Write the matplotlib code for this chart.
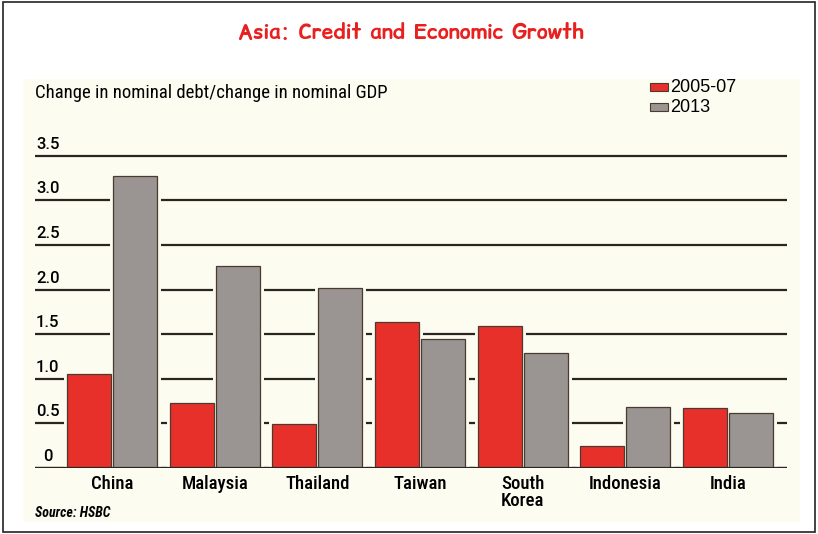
import numpy as np
import matplotlib.pyplot as plt
from matplotlib.patches import Rectangle

countries = ['China', 'Malaysia', 'Thailand', 'Taiwan', 'South\nKorea', 'Indonesia', 'India']
ratio_0507 = [1.05, 0.73, 0.49, 1.64, 1.59, 0.25, 0.67]
ratio_2013 = [3.27, 2.26, 2.02, 1.45, 1.29, 0.68, 0.62]
series_names = ['2005-07', '2013']
yticks = [0, 0.5, 1.0, 1.5, 2.0, 2.5, 3.0, 3.5]
ytick_labels = ['0', '0.5', '1.0', '1.5', '2.0', '2.5', '3.0', '3.5']

red = '#e8302a'
grey = '#9a9592'
cream = '#fcfcf0'
edge = '#4a3a30'
narrow = ['Roboto Condensed', 'Liberation Sans']
comic = ['Comic Relief', 'Comic Neue', 'DejaVu Sans']

W, H = 818, 534
fig = plt.figure(figsize=(W / 100, H / 100), dpi=100)
fig.patch.set_facecolor('white')

# outer frame and cream panel
fig.add_artist(Rectangle((3 / W, 2 / H), 812 / W, 530 / H, transform=fig.transFigure,
                         fill=False, edgecolor='#222222', lw=1.2))
fig.add_artist(Rectangle((23 / W, (H - 522) / H), 777 / W, 443 / H, transform=fig.transFigure,
                         facecolor=cream, edgecolor='none', zorder=0))

fig.text(411 / W, 1 - 33 / H, 'Asia: Credit and Economic Growth', color='#e82020',
         family=comic, fontsize=15, fontweight='bold', ha='center', va='center')
fig.text(35 / W, 1 - 93 / H, 'Change in nominal debt/change in nominal GDP',
         family=narrow, fontsize=13.5, ha='left', va='center')
fig.text(35 / W, 1 - 513 / H, 'Source: HSBC', family=narrow, fontsize=10,
         fontstyle='italic', fontweight='bold', ha='left', va='center')

# legend
for i, (name, col) in enumerate(zip(series_names, [red, grey])):
    yc = 87 + i * 20
    fig.add_artist(Rectangle((650 / W, 1 - (yc + 3.5) / H), 18 / W, 7 / H,
                             transform=fig.transFigure, facecolor=col,
                             edgecolor=edge, lw=0.8))
    fig.text(670 / W, 1 - (yc + 1) / H, name, family='Liberation Sans', fontsize=13,
             ha='left', va='center')

ymax = 3.6
top_px = 468 - ymax * 89.2
ax = fig.add_axes([35 / W, (H - 468) / H, 752 / W, (468 - top_px) / H])
ax.set_facecolor('none')
ax.set_xlim(-0.75, 6.575)
ax.set_ylim(0, ymax)
for s in ax.spines.values():
    s.set_visible(False)

for t, lab in zip(yticks, ytick_labels):
    ax.axhline(t, color='#2a2520', lw=1.6, zorder=1)
    ax.text(0.017, t + 0.045, lab, transform=ax.get_yaxis_transform(),
            ha='center', va='bottom', family=['Roboto', 'Liberation Sans'],
            fontweight='medium', fontsize=12)

x = np.arange(len(countries))
bw = 0.43
off = 0.224
for vals, dx, col in [(ratio_0507, -off, red), (ratio_2013, off, grey)]:
    # cream halo breaks the grid lines around each bar
    ax.bar(x + dx, vals, bw, color=col, edgecolor=cream, lw=5, zorder=2)
    ax.bar(x + dx, vals, bw, color=col, edgecolor=edge, lw=0.9, zorder=3)
ax.axhline(0, color='#2a2520', lw=1.6, zorder=4)

ax.set_yticks([])
ax.set_xticks(x)
ax.set_xticklabels(countries, family=narrow, fontweight='medium', fontsize=13.5,
                   linespacing=0.95)
ax.tick_params(axis='x', length=0, pad=5)

fig.savefig('out.png', dpi=100)
